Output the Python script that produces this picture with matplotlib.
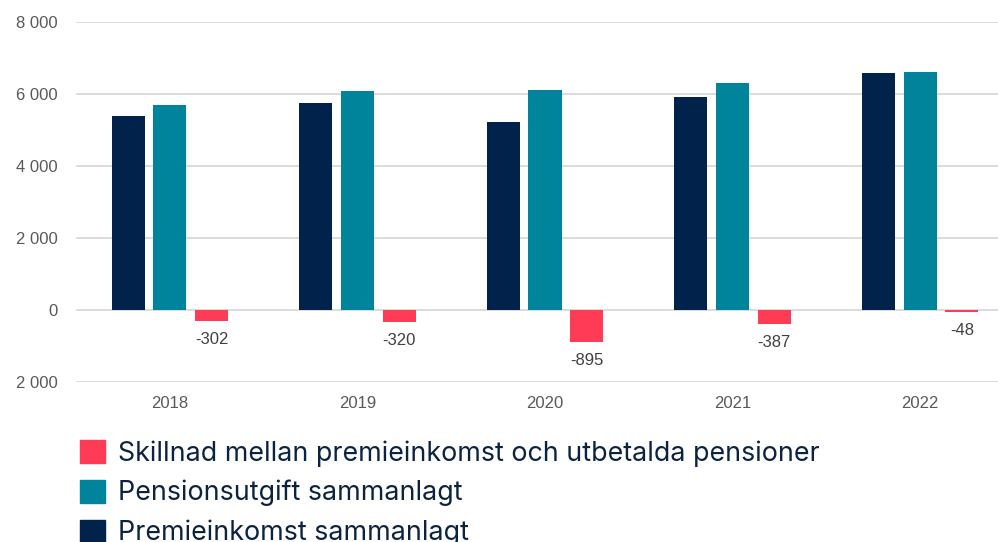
import matplotlib
matplotlib.use("Agg")
import matplotlib.pyplot as plt
import numpy as np
from matplotlib.patches import Patch

years = ["2018", "2019", "2020", "2021", "2022"]
premieinkomst = [5400, 5760, 5220, 5920, 6570]
pensionsutgift = [5702, 6080, 6115, 6307, 6618]
skillnad = [-302, -320, -895, -387, -48]
ytick_values = [-2000, 0, 2000, 4000, 6000, 8000]
ytick_labels = ["2 000", "0", "2 000", "4 000", "6 000", "8 000"]
labels = ["Premieinkomst sammanlagt", "Pensionsutgift sammanlagt",
          "Skillnad mellan premieinkomst och utbetalda pensioner"]

c_navy = "#00224b"
c_teal = "#00849b"
c_red = "#ff3b55"

fig = plt.figure(figsize=(9.98, 5.42), dpi=100)
ax = fig.add_axes([76/998, 160/542, 938/998, 360/542])

x = np.arange(len(years))
w = 0.176
off = 0.222
ax.bar(x - off, premieinkomst, w, color=c_navy, zorder=3)
ax.bar(x, pensionsutgift, w, color=c_teal, zorder=3)
ax.bar(x + off, skillnad, w, color=c_red, zorder=3)

for xi, v in zip(x, skillnad):
    ax.annotate(f"{v}", (xi + off, v), xytext=(0, -8), textcoords="offset points",
                ha="center", va="top", fontsize=12, color="#404040",
                family="Liberation Sans")

ax.set_ylim(-2000, 8000)
ax.set_xlim(-0.5, len(years) - 0.5)
ax.set_yticks(ytick_values)
ax.set_yticklabels(ytick_labels)
ax.set_xticks(x)
ax.set_xticklabels(years)
ax.yaxis.grid(True, color="#d9d9d9", lw=1.3, zorder=0)
for s in ax.spines.values():
    s.set_visible(False)
ax.tick_params(axis="both", length=0, labelsize=12, colors="#595959")
ax.tick_params(axis="y", pad=13)
ax.tick_params(axis="x", pad=10)
for t in ax.get_xticklabels() + ax.get_yticklabels():
    t.set_family("Liberation Sans")

handles = [Patch(color=c_red), Patch(color=c_teal), Patch(color=c_navy)]
leg = fig.legend(handles, [labels[2], labels[1], labels[0]],
                 loc="upper left", bbox_to_anchor=(80/998, 1 - 440/542),
                 frameon=False, prop={"family": "Inter", "size": 19.3},
                 handlelength=0.92, handleheight=0.92, handletextpad=0.5,
                 labelspacing=0.5, borderaxespad=0, borderpad=0)
for t in leg.get_texts():
    t.set_color("#0c2340")

fig.savefig("out.png", dpi=100)
